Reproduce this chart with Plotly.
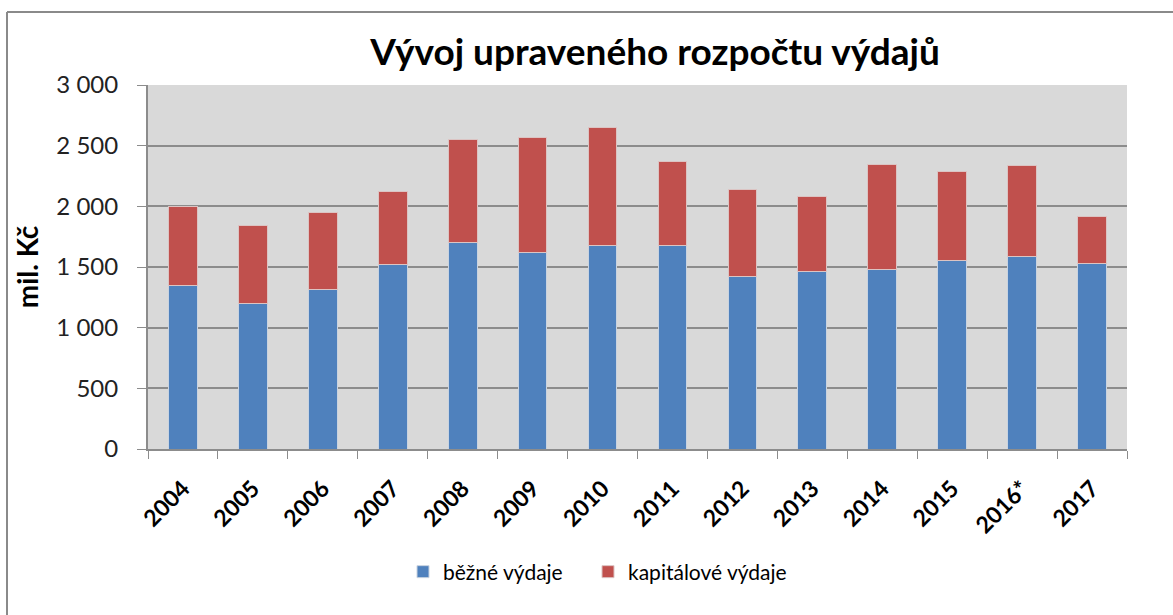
import plotly.graph_objects as go

years = ["2004", "2005", "2006", "2007", "2008", "2009", "2010", "2011",
         "2012", "2013", "2014", "2015", "2016*", "2017"]
bezne = [1351, 1200, 1316, 1517, 1704, 1621, 1679, 1679, 1420, 1459, 1481, 1550, 1588, 1527]
kapitalove = [649, 640, 632, 607, 848, 943, 967, 693, 718, 618, 866, 739, 748, 388]
ytick_vals = [0, 500, 1000, 1500, 2000, 2500, 3000]
ytick_text = ["0", "500", "1 000", "1 500", "2 000", "2 500", "3 000"]

FONT = "Lato"

fig = go.Figure()
fig.add_trace(go.Bar(x=years, y=bezne, name="běžné výdaje", legend="legend",
                     marker=dict(color="#4F81BD", line=dict(color="#c9d3e0", width=1))))
fig.add_trace(go.Bar(x=years, y=kapitalove, name="kapitálové výdaje", legend="legend2",
                     marker=dict(color="#C0504D", line=dict(color="#dcc4c3", width=1))))

W, H = 1173, 615
L, R, T, B = 148, 46, 85, 166
pw, ph = W - L - R, H - T - B

def px(x):
    return (x - L) / pw

def py(y):
    return (H - B - y) / ph

leg_common = dict(orientation="h", xanchor="left", y=py(572), yanchor="middle",
                  font=dict(size=21, family=FONT), itemwidth=30,
                  bgcolor="rgba(0,0,0,0)")

fig.update_layout(
    width=W, height=H,
    barmode="stack", bargap=0.59,
    paper_bgcolor="white", plot_bgcolor="#D9D9D9",
    margin=dict(l=L, r=R, t=T, b=B, autoexpand=False),
    font=dict(family=FONT, color="black"),
    title=dict(text="<b>Vývoj upraveného rozpočtu výdajů</b>", x=px(655), xanchor="center",
               xref="paper", y=1 - 52 / H, yanchor="middle",
               font=dict(size=37, family=FONT, color="black")),
    legend=dict(x=px(403), **leg_common),
    legend2=dict(x=px(588), **leg_common),
    showlegend=True,
    xaxis=dict(type="category", tickangle=-45, tickson="boundaries", ticks="outside",
               ticklen=8, tickcolor="#8c8c8c", showline=True, linecolor="#8c8c8c",
               linewidth=2, showgrid=False,
               tickfont=dict(size=23, family=FONT, color="black", weight="bold"),
               ticklabelstandoff=15),
    yaxis=dict(range=[0, 3000], tickvals=ytick_vals, ticktext=ytick_text,
               ticks="outside", ticklen=9, tickcolor="#8c8c8c",
               showline=True, linecolor="#8c8c8c", linewidth=2,
               showgrid=True, gridcolor="#8c8c8c", gridwidth=2, zeroline=False,
               tickfont=dict(size=24, family=FONT, color="#222"),
               ticklabelstandoff=14,
               title=dict(text="<b>mil. Kč</b>", font=dict(size=28, family=FONT), standoff=10)),
    shapes=[
        dict(type="line", xref="paper", yref="paper", x0=px(7), x1=px(W), y0=py(12), y1=py(12),
             line=dict(color="#8a8a8a", width=2)),
        dict(type="line", xref="paper", yref="paper", x0=px(7), x1=px(7), y0=py(12), y1=py(H),
             line=dict(color="#8a8a8a", width=2)),
    ],
)

fig.write_html("out.html", config={"displayModeBar": False},
               post_script="document.body.style.margin='0px';")
